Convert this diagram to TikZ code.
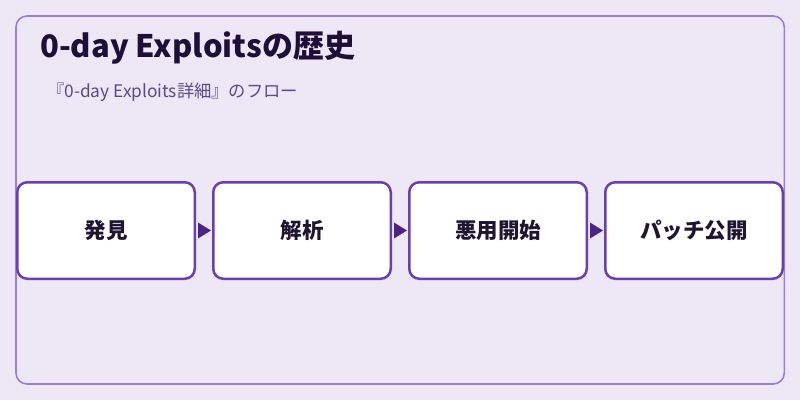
\documentclass[tikz,border=0pt]{standalone}
\usepackage{fontspec}
\setmainfont{Noto Sans CJK JP}
\usetikzlibrary{calc}
\definecolor{bgc}{HTML}{EEE7F6}
\definecolor{framec}{HTML}{9C80CF}
\definecolor{boxc}{HTML}{6B40A8}
\definecolor{arrc}{HTML}{4B2580}
\definecolor{titlec}{HTML}{1E0F38}
\definecolor{subc}{HTML}{5B4A88}
\definecolor{txtc}{HTML}{1E1530}
\tikzset{
  stepbox/.style={draw=boxc, line width=2.5pt, fill=white, rounded corners=10pt,
    minimum width=177.5pt, minimum height=96.5pt, inner sep=0pt,
    font=\fontsize{21.5}{24}\selectfont\bfseries, text=txtc},
  arrowhead/.style={fill=arrc},
}
\begin{document}
\begin{tikzpicture}[x=1pt,y=-1pt]
\fill[bgc] (0,0) rectangle (800,400);
\useasboundingbox (0,0) rectangle (800,400);
\draw[framec, line width=1.6pt, rounded corners=11pt] (16,16) rectangle (784.3,384);
\node[anchor=base west, inner sep=0pt, text=titlec, font=\fontsize{31}{34}\selectfont\bfseries] (title) at (40,57) {0-day Exploitsの歴史};
\node[anchor=base west, inner sep=0pt, text=subc, font=\fontsize{17.3}{20}\selectfont] (sub) at (47,97.5) {『0-day Exploits詳細』のフロー};
\node[stepbox] (s1) at (106,230.5) {発見};
\node[stepbox] (s2) at (302,230.5) {解析};
\node[stepbox] (s3) at (498,230.5) {悪用開始};
\node[stepbox] (s4) at (694,230.5) {パッチ公開};
\foreach \a in {s1,s2,s3}{
  \fill[arrowhead] ($(\a.east)+(2,-8)$) -- ++(13,8) -- ++(-13,8) -- cycle;
}
\end{tikzpicture}
\end{document}
